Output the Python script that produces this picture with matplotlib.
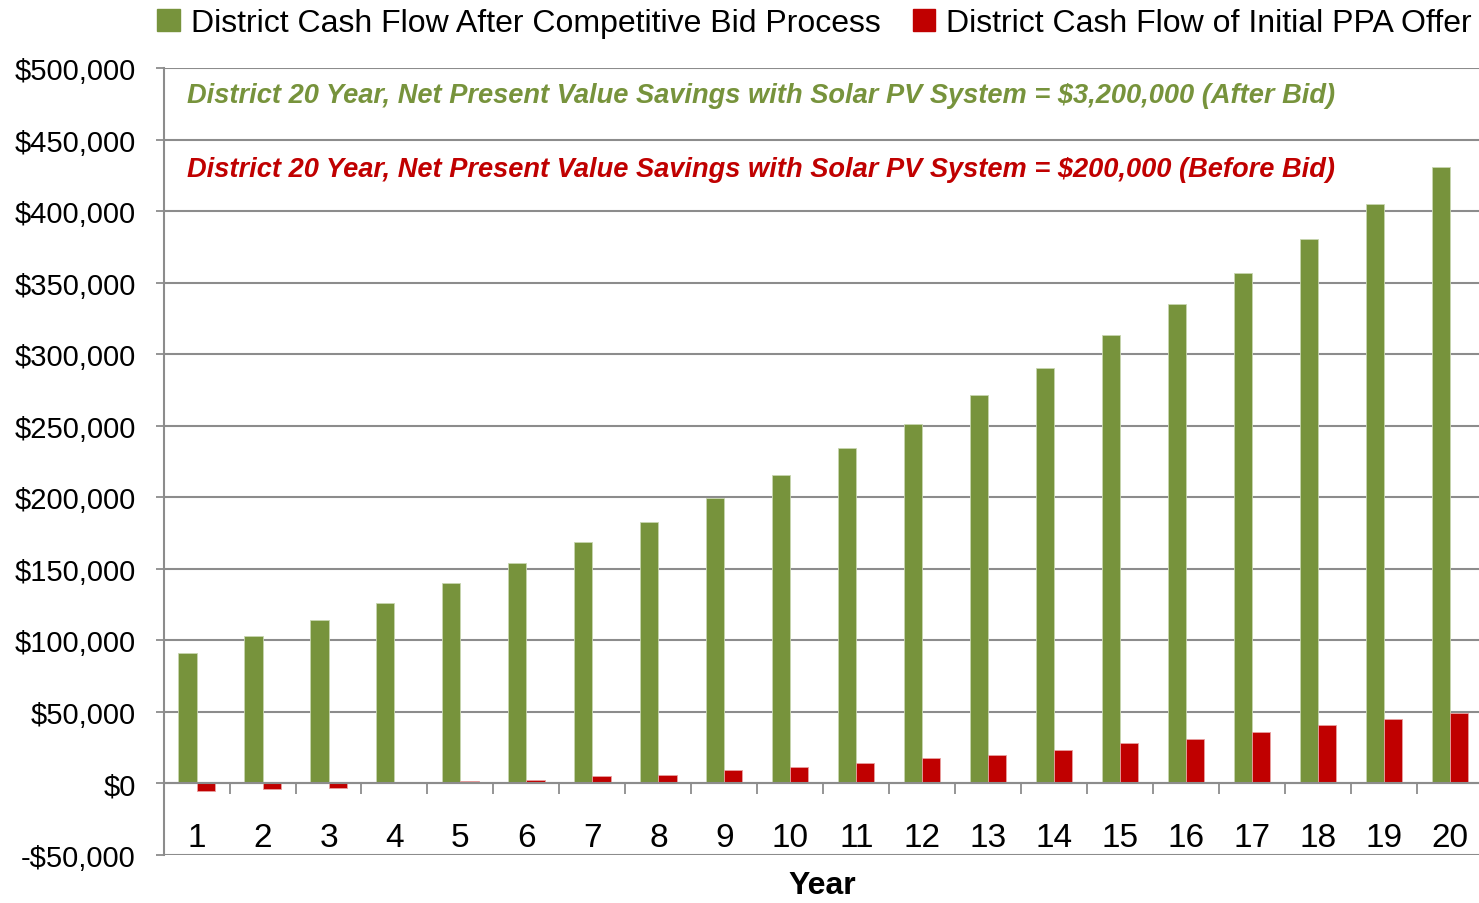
import numpy as np
import matplotlib.pyplot as plt
from matplotlib.patches import Patch
from matplotlib.ticker import FuncFormatter

plt.rcParams['font.family'] = ['Liberation Sans', 'DejaVu Sans']

years = list(range(1, 21))
after_bid = [91200, 102800, 113900, 126400, 140300, 154200, 168800, 182800, 199600, 215400,
             234400, 251400, 271200, 290500, 313500, 335100, 356400, 380300, 405000, 431000]
initial_ppa = [-5500, -4200, -3000, 300, 1400, 2600, 4900, 6100, 9600, 11700,
               14300, 17500, 19800, 23300, 28000, 31300, 36200, 40600, 45300, 49400]

green = '#77933C'
red = '#C00000'
grid_col = '#8c8c8c'

fig = plt.figure(figsize=(14.79, 9.04), dpi=100)
ax = fig.add_axes([0.1106, 0.0531, 0.8921, 0.8706])

x = np.array(years)
w = 0.275
ax.bar(x - w / 2, after_bid, w, color=green, edgecolor='#c8d6b0', linewidth=0.6, zorder=3)
ax.bar(x + w / 2, initial_ppa, w, color=red, edgecolor='#e8a0a0', linewidth=0.6, zorder=3)

ax.set_xlim(0.5, 20.5)
ax.set_ylim(-50000, 500000)
ax.set_yticks(np.arange(-50000, 500001, 50000))
ax.yaxis.set_major_formatter(FuncFormatter(lambda v, p: ('-$' if v < 0 else '$') + f'{abs(int(v)):,}'))
ax.grid(axis='y', color=grid_col, linewidth=1.5, zorder=0)

for s in ['top', 'right']:
    ax.spines[s].set_visible(False)
ax.spines['left'].set_color(grid_col)
ax.spines['left'].set_linewidth(1.5)
ax.spines['bottom'].set_position(('data', 0))
ax.spines['bottom'].set_color(grid_col)
ax.spines['bottom'].set_linewidth(1.5)
ax.spines['bottom'].set_zorder(4)

ax.set_xticks(years)
ax.set_xticks(np.arange(0.5, 21, 1), minor=True)
ax.tick_params(axis='x', which='major', length=0, pad=28, labelsize=24)
ax.tick_params(axis='x', which='minor', length=8, width=1.3, color=grid_col, direction='out')
ax.tick_params(axis='y', length=6, width=1.3, color=grid_col, labelsize=21, pad=14)

fig.text(0.556, 0.003, 'Year', ha='center', va='bottom', fontsize=23, fontweight='bold')

ax.text(0.018, 0.9657, 'District 20 Year, Net Present Value Savings with Solar PV System = $3,200,000 (After Bid)',
        transform=ax.transAxes, color=green, fontsize=19.6, fontweight='bold', style='italic', va='center')
ax.text(0.018, 0.8717, 'District 20 Year, Net Present Value Savings with Solar PV System = $200,000 (Before Bid)',
        transform=ax.transAxes, color=red, fontsize=19.6, fontweight='bold', style='italic', va='center')

handles = [Patch(color=green), Patch(color=red)]
labels = ['District Cash Flow After Competitive Bid Process', 'District Cash Flow of Initial PPA Offer']
fig.legend(handles, labels, loc='upper left', bbox_to_anchor=(0.087, 1.022), ncol=2, frameon=False,
           fontsize=23, handlelength=0.7, handleheight=0.7, handletextpad=0.35, columnspacing=1.0)

fig.savefig('out.png', dpi=100)
